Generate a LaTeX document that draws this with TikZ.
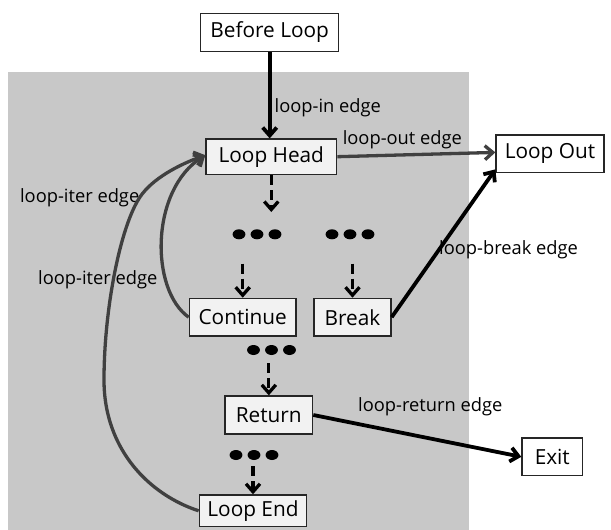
\documentclass[tikz,border=0pt]{standalone}
\usepackage{fontspec}
\setmainfont{Open Sans}
\usetikzlibrary{arrows.meta}
\definecolor{bggray}{HTML}{C8C8C8}
\definecolor{boxfill}{HTML}{F2F2F2}
\definecolor{edgegray}{HTML}{404040}
\definecolor{boxline}{HTML}{262626}
\tikzset{
  blk/.style={draw=boxline, line width=1.3pt, fill=boxfill, inner sep=0pt,
    font=\fontsize{20.8}{24}\selectfont, text=black},
  outblk/.style={blk, fill=white},
  lbl/.style={font=\fontsize{18.3}{21}\selectfont, inner sep=0pt, anchor=west, text=black},
  tipa/.style={-{Straight Barb[length=8pt,width=14pt]}},
  solidedge/.style={tipa, line width=3.8pt, black},
  grayedge/.style={tipa, line width=3.3pt, edgegray},
  dashedge/.style={tipa, line width=3.3pt, black, dash pattern=on 10pt off 5pt},
  dotrow/.style={minimum width=49pt, minimum height=10pt, inner sep=0pt, fill=bggray,
    path picture={\foreach \dx in {-18,0,18}
      \fill[black] ([xshift=\dx pt]path picture bounding box.center) ellipse [x radius=6.4pt, y radius=5pt];}}
}
\begin{document}
\begin{tikzpicture}[x=1pt,y=-1pt]
\useasboundingbox (0,0) rectangle (611,530);
\fill[bggray] (8.3,71.7) rectangle (469.3,530);

% nodes
\node[outblk, minimum width=138pt, minimum height=38.4pt] (before) at (269.7,32.5) {Before Loop};
\node[blk, minimum width=130.7pt, minimum height=35.3pt] (head) at (271.3,156.7) {Loop Head};
\node[outblk, minimum width=108pt, minimum height=37.7pt] (out) at (550,153.9) {Loop Out};
\node[blk, minimum width=106.7pt, minimum height=37.7pt] (cont) at (242.7,317.2) {Continue};
\node[blk, minimum width=77pt, minimum height=37.7pt] (brk) at (352.5,317.2) {Break};
\node[blk, minimum width=87.7pt, minimum height=38pt] (ret) at (268.8,415) {Return};
\node[outblk, minimum width=60.7pt, minimum height=37.7pt] (exit) at (552.3,456.8) {Exit};
\node[blk, minimum width=107.4pt, minimum height=31.7pt] (lend) at (253,510.8) {Loop End};

% dots
\node[dotrow] (d1) at (257,234.3) {};
\node[dotrow] (d2) at (350,234.3) {};
\node[dotrow] (d3) at (271.5,350) {};
\node[dotrow] (d4) at (254,455) {};

% free ends of dashed connectors
\coordinate (t1) at (271.3,212);
\coordinate (s2) at (242.7,263.5);
\coordinate (s3) at (352.5,263.5);
\coordinate (s4) at (268.8,363);
\coordinate (s5) at (253,466);

% labels
\node[lbl] (lin) at (274.5,108) {loop-in edge};
\node[lbl] (lout) at (342.6,140) {loop-out edge};
\node[lbl] (liter1) at (19.9,198) {loop-iter edge};
\node[lbl] (liter2) at (38,280) {loop-iter edge};
\node[lbl] (lbrk) at (439,249.5) {loop-break edge};
\node[lbl] (lret) at (358,406.7) {loop-return edge};

% iteration curves
\draw[grayedge] (lend.west) .. controls (150,495) and (104,450) .. (104,380)
  .. controls (104,310) and (120,227) .. (140,197)
  .. controls (152,179) and (178,165) .. ([yshift=1.5pt]head.west);
\draw[grayedge] (cont.west) .. controls (150,290) and (150,190) .. ([yshift=1.5pt]head.west);

% solid edges
\draw[solidedge] (before.south) -- (before.south |- head.north);
\draw[grayedge] (head.east) -- ([yshift=1.5pt]out.west);
\draw[solidedge] (brk.east) -- ([yshift=4pt]out.south west);
\draw[solidedge] (ret.east) -- (exit.west);

% dashed edges
\draw[dashedge] (head.south -| t1) -- (t1);
\draw[dashedge] (s2) -- (cont.north);
\draw[dashedge] (s3) -- (brk.north);
\draw[dashedge] (s4) -- (ret.north);
\draw[dashedge] (s5) -- (lend.north);
\end{tikzpicture}
\end{document}
